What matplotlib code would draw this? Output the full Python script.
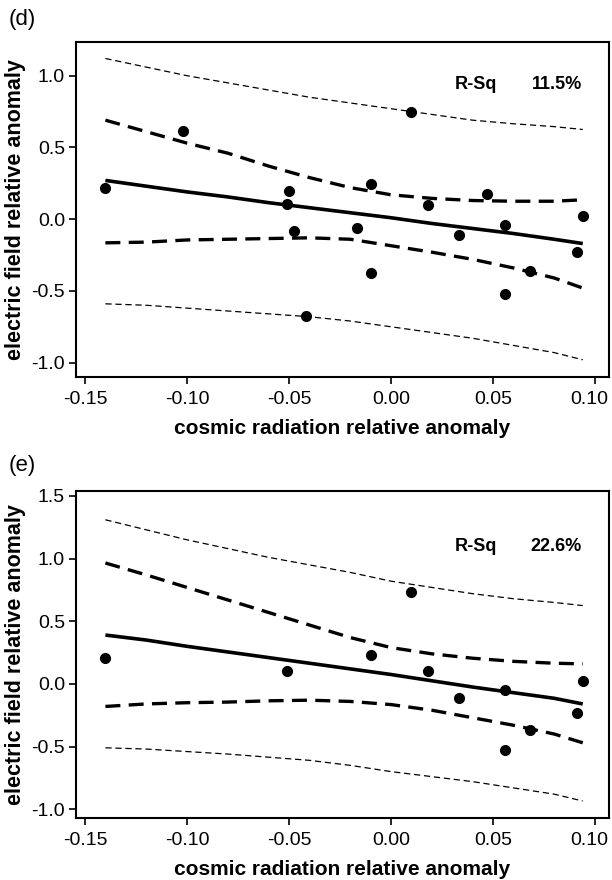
import matplotlib
matplotlib.use('Agg')
import matplotlib.pyplot as plt
import matplotlib.transforms as mtrans

plt.rcParams['font.family'] = ['Liberation Sans', 'DejaVu Sans']

# scatter points, panel (d)
d_x = [-0.1404, -0.1019, -0.0498, -0.0508, -0.0475, -0.0419, -0.0167, -0.0100, -0.0100,
       0.0096, 0.0183, 0.0333, 0.0469, 0.0560, 0.0560, 0.0683, 0.0912, 0.0940]
d_y = [0.214, 0.615, 0.193, 0.103, -0.079, -0.676, -0.065, 0.242, -0.373,
       0.744, 0.098, -0.112, 0.172, -0.042, -0.520, -0.359, -0.228, 0.021]

# scatter points, panel (e)
e_x = [-0.1404, -0.0508, -0.0100, 0.0096, 0.0179, 0.0333, 0.0560, 0.0560, 0.0683, 0.0912, 0.0940]
e_y = [0.207, 0.104, 0.234, 0.734, 0.106, -0.112, -0.045, -0.524, -0.364, -0.231, 0.021]

# fitted line, confidence band, prediction band
line_x = [-0.14, -0.12, -0.10, -0.08, -0.06, -0.04, -0.02, 0.00, 0.02, 0.04, 0.06, 0.08, 0.094]

d_fit = [0.27, 0.23, 0.19, 0.155, 0.115, 0.08, 0.045, 0.01, -0.03, -0.065, -0.10, -0.14, -0.17]
d_ci_hi = [0.69, 0.61, 0.53, 0.46, 0.37, 0.29, 0.22, 0.17, 0.145, 0.13, 0.125, 0.125, 0.135]
d_ci_lo = [-0.165, -0.16, -0.145, -0.14, -0.135, -0.13, -0.14, -0.185, -0.23, -0.28, -0.34, -0.41, -0.48]
d_pi_hi = [1.12, 1.06, 1.00, 0.95, 0.90, 0.85, 0.81, 0.77, 0.73, 0.69, 0.665, 0.645, 0.625]
d_pi_lo = [-0.59, -0.60, -0.62, -0.64, -0.66, -0.68, -0.71, -0.75, -0.79, -0.83, -0.88, -0.93, -0.98]

e_fit = [0.39, 0.35, 0.30, 0.255, 0.21, 0.165, 0.12, 0.075, 0.025, -0.025, -0.07, -0.115, -0.16]
e_ci_hi = [0.965, 0.87, 0.77, 0.67, 0.57, 0.47, 0.37, 0.29, 0.24, 0.205, 0.18, 0.165, 0.16]
e_ci_lo = [-0.18, -0.16, -0.15, -0.145, -0.135, -0.13, -0.14, -0.165, -0.21, -0.27, -0.33, -0.40, -0.47]
e_pi_hi = [1.31, 1.23, 1.15, 1.08, 1.01, 0.95, 0.89, 0.82, 0.77, 0.72, 0.68, 0.65, 0.625]
e_pi_lo = [-0.51, -0.52, -0.54, -0.56, -0.585, -0.61, -0.65, -0.70, -0.74, -0.78, -0.83, -0.88, -0.935]

x_ticks = [-0.15, -0.10, -0.05, 0.00, 0.05, 0.10]
x_ticklabels = ['-0.15', '-0.10', '-0.05', '0.00', '0.05', '0.10']

panels = [
    ('(d)', d_x, d_y, d_fit, d_ci_hi, d_ci_lo, d_pi_hi, d_pi_lo, 'R-Sq', '11.5%',
     [-1.0, -0.5, 0.0, 0.5, 1.0], (-1.10, 1.235), 0.937,
     [0.1242, 0.5716, 0.871, 0.3807], 20),
    ('(e)', e_x, e_y, e_fit, e_ci_hi, e_ci_lo, e_pi_hi, e_pi_lo, 'R-Sq', '22.6%',
     [-1.0, -0.5, 0.0, 0.5, 1.0, 1.5], (-1.07, 1.54), 1.098,
     [0.1242, 0.0705, 0.871, 0.3716], 465),
]

fig = plt.figure(figsize=(6.12, 8.8), dpi=100)

for (tag, px, py, fit, ci_hi, ci_lo, pi_hi, pi_lo, rlab, rval,
     yticks, ylim, ytxt, rect, tag_y) in panels:
    ax = fig.add_axes(rect)
    ax.plot(line_x, pi_hi, color='black', lw=0.9, dashes=(5, 3))
    ax.plot(line_x, pi_lo, color='black', lw=0.9, dashes=(5, 3))
    ax.plot(line_x, ci_hi, color='black', lw=2.4, dashes=(4.5, 2.5))
    ax.plot(line_x, ci_lo, color='black', lw=2.4, dashes=(4.5, 2.5))
    ax.plot(line_x, fit, color='black', lw=2.6, solid_capstyle='butt')
    ax.plot(px, py, 'o', color='black', markersize=7)

    ax.set_xlim(-0.1544, 0.1069)
    ax.set_ylim(*ylim)
    ax.set_xticks(x_ticks)
    ax.set_xticklabels(x_ticklabels)
    ax.set_yticks(yticks)
    ax.set_yticklabels(['%.1f' % v for v in yticks])
    ax.tick_params(direction='out', length=5, width=1.2, labelsize=14)
    ax.tick_params(axis='x', pad=5)
    ax.tick_params(axis='y', pad=3)
    for s in ax.spines.values():
        s.set_linewidth(1.5)

    # last x label sits against the figure edge, nudge it in a little
    last = ax.get_xticklabels()[-1]
    last.set_transform(last.get_transform() + mtrans.ScaledTranslation(-4 / 72, 0, fig.dpi_scale_trans))

    ax.set_xlabel('cosmic radiation relative anomaly', fontsize=15, fontweight='bold', labelpad=8)
    ax.set_ylabel('electric field relative anomaly', fontsize=15.5, fontweight='bold', labelpad=4)

    ax.text(0.0417, ytxt, rlab, fontsize=13, fontweight='bold', ha='center', va='center')
    ax.text(0.0936, ytxt, rval, fontsize=13, fontweight='bold', ha='right', va='center')

    fig.text(22 / 612, 1 - tag_y / 880, tag, fontsize=16, ha='center', va='center')

plt.savefig('out.png', dpi=100)
